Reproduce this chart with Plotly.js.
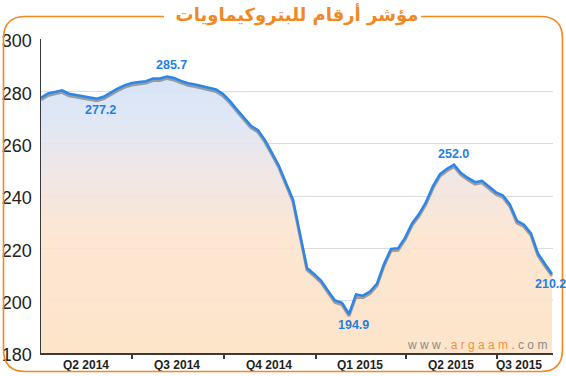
<!DOCTYPE html>
<html>
<head>
<meta charset="utf-8">
<script src="https://cdn.plot.ly/plotly-3.0.1.min.js"></script>
<style>
  html, body { margin: 0; padding: 0; background: #ffffff; }
  #chart { width: 566px; height: 376px; }
</style>
</head>
<body>
<div id="chart"></div>
<script>
// ---- data (weekly index values) ----
const dates = [
  "2014-04-01","2014-04-08","2014-04-15","2014-04-22","2014-04-29","2014-05-06","2014-05-13","2014-05-20",
  "2014-05-27","2014-06-03","2014-06-10","2014-06-17","2014-06-24","2014-07-01","2014-07-08","2014-07-15",
  "2014-07-22","2014-07-29","2014-08-05","2014-08-12","2014-08-19","2014-08-26","2014-09-02","2014-09-09",
  "2014-09-16","2014-09-23","2014-09-30","2014-10-07","2014-10-14","2014-10-21","2014-10-28","2014-11-04",
  "2014-11-11","2014-11-18","2014-11-25","2014-12-02","2014-12-09","2014-12-16","2014-12-23","2014-12-30",
  "2015-01-06","2015-01-13","2015-01-20","2015-01-27","2015-02-03","2015-02-10","2015-02-17","2015-02-24",
  "2015-03-03","2015-03-10","2015-03-17","2015-03-24","2015-03-31","2015-04-07","2015-04-14","2015-04-21",
  "2015-04-28","2015-05-05","2015-05-12","2015-05-19","2015-05-26","2015-06-02","2015-06-09","2015-06-16",
  "2015-06-23","2015-06-30","2015-07-07","2015-07-14","2015-07-21","2015-07-28","2015-08-04","2015-08-11",
  "2015-08-18","2015-08-25"
];
const indexValues = [
  277.6, 279.2, 279.8, 280.4, 279.1, 278.6, 278.0, 277.5,
  277.2, 278.0, 279.7, 281.1, 282.4, 283.2, 283.6, 283.9,
  284.9, 284.9, 285.7, 285.1, 284.0, 283.1, 282.6, 282.0,
  281.5, 280.7, 279.0, 276.3, 273.0, 269.8, 266.8, 265.2,
  261.3, 256.5, 251.5, 245.0, 238.6, 225.5, 212.5, 210.2,
  207.7, 203.8, 200.1, 199.2, 194.9, 202.4, 201.9, 203.5,
  206.5, 214.0, 219.8, 220.0, 224.0, 229.5, 233.1, 237.7,
  243.8, 248.4, 250.4, 252.0, 248.8, 246.9, 245.3, 245.8,
  243.7, 241.4, 240.2, 236.7, 230.5, 229.0, 225.7, 218.0,
  214.0, 210.2
];
const quarterStarts = ["2014-07-01","2014-10-01","2015-01-01","2015-04-01","2015-07-01"];
const quarterMids   = ["2014-05-16","2014-08-15","2014-11-15","2015-02-14","2015-05-16","2015-07-23"];
const quarterLabels = ["Q2 2014","Q3 2014","Q4 2014","Q1 2015","Q2 2015","Q3 2015"];
const labelDates  = ["2014-05-27","2014-08-05","2015-02-03","2015-05-19","2015-08-25"];
const labelValues = [277.2, 285.7, 194.9, 252.0, 210.2];
const labelTexts  = ["277.2","285.7","194.9","252.0","210.2"];
const labelShifts = [-11, 11, -11, 11, -10];
const labelXShifts = [3, 4, 4, -1, -2];
const titleText = "مؤشر أرقام للبتروكيماويات";
const yRange = [180, 300];
const xRange = ["2014-04-01", "2015-08-26"];

// ---- geometry helpers (pixel -> paper) ----
const W = 566, H = 376, ML = 41, MR = 13, MT = 39, MB = 23;
const PW = W - ML - MR, PH = H - MT - MB;
const px = p => ((p - ML) / PW).toFixed(5);
const py = p => ((H - MB - p) / PH).toFixed(5);
function borderPath() {
  const top = 16.5, left = 3.5, right = 562.5, bottom = 371.5, r = 22;
  const gapL = 164, gapR = 421;
  return "M" + px(gapL) + "," + py(top) +
    " L" + px(left + r) + "," + py(top) +
    " Q" + px(left) + "," + py(top) + " " + px(left) + "," + py(top + r) +
    " L" + px(left) + "," + py(bottom - r) +
    " Q" + px(left) + "," + py(bottom) + " " + px(left + r) + "," + py(bottom) +
    " L" + px(right - r) + "," + py(bottom) +
    " Q" + px(right) + "," + py(bottom) + " " + px(right) + "," + py(bottom - r) +
    " L" + px(right) + "," + py(top + r) +
    " Q" + px(right) + "," + py(top) + " " + px(right - r) + "," + py(top) +
    " L" + px(gapR) + "," + py(top);
}

const shadowShift = 2 * (yRange[1] - yRange[0]) / PH; // 2px lower

const traces = [
  { // gradient fill
    x: dates, y: indexValues, type: "scatter", mode: "lines",
    line: { width: 0, color: "rgba(0,0,0,0)" },
    fill: "tozeroy",
    fillgradient: {
      type: "vertical", start: 180, stop: 292,
      colorscale: [[0, "rgba(253,226,196,0.9)"], [0.4, "rgba(252,228,206,0.9)"],
                   [0.62, "rgba(238,228,228,0.9)"], [0.8, "rgba(220,229,244,0.9)"],
                   [1, "rgba(208,225,248,0.92)"]]
    },
    hoverinfo: "skip", showlegend: false, yaxis: "y"
  },
  { // shadow
    x: dates, y: indexValues, type: "scatter", mode: "lines",
    line: { width: 3, color: "rgba(95,95,95,0.55)" },
    hoverinfo: "skip", showlegend: false, yaxis: "y2"
  },
  { // main line
    x: dates, y: indexValues, type: "scatter", mode: "lines",
    line: { width: 2.5, color: "#2a86ea" },
    showlegend: false, yaxis: "y3"
  }
];

const narrow = "Liberation Sans Narrow, Arial Narrow, Liberation Sans, sans-serif";
const annotations = labelDates.map((d, i) => ({
  x: d, y: labelValues[i], xref: "x", yref: "y3",
  text: labelTexts[i], showarrow: false,
  yshift: labelShifts[i], xshift: labelXShifts[i],
  font: { family: narrow, size: 12.5, color: "#1f80e6", weight: "bold" }
}));
annotations.push({
  xref: "paper", yref: "paper", x: px(549), y: py(345), xanchor: "right", yanchor: "middle",
  showarrow: false,
  text: "w w w . <span style='color:#f39048'>a r g a a m</span> . c o m",
  font: { family: "Liberation Sans, Arial, sans-serif", size: 12, color: "#8a8a8a" }
});

const layout = {
  width: W, height: H,
  margin: { l: ML, r: MR, t: MT, b: MB, pad: 0 },
  paper_bgcolor: "#ffffff", plot_bgcolor: "#ffffff",
  showlegend: false,
  title: {
    text: titleText, x: 0.5, xanchor: "center", xref: "paper",
    y: 1 - 15 / H, yref: "container", yanchor: "middle",
    font: { family: "DejaVu Sans, sans-serif", size: 18, color: "#f0891f", weight: "bold" }
  },
  xaxis: {
    type: "date", range: xRange, fixedrange: true,
    tickmode: "array", tickvals: quarterMids, ticktext: quarterLabels,
    ticks: "", showgrid: false, zeroline: false,
    showline: true, linecolor: "#3a3a3a", linewidth: 1.5,
    tickfont: { family: narrow, size: 12, color: "#222", weight: "bold" },
    minor: { tickmode: "array", tickvals: quarterStarts, ticks: "outside", ticklen: 4, tickcolor: "#3a3a3a", tickwidth: 1.2, showgrid: false }
  },
  yaxis: {
    range: yRange, fixedrange: true, dtick: 20, tick0: 180,
    showgrid: true, gridcolor: "#dcdcdc", gridwidth: 1, zeroline: false,
    showline: true, linecolor: "#3a3a3a", linewidth: 1.5, ticks: "",
    ticklabelstandoff: 4, ticklabelshift: 2,
    tickfont: { family: narrow, size: 18, color: "#222" }
  },
  yaxis2: { overlaying: "y", visible: false, fixedrange: true,
            range: [yRange[0] + shadowShift, yRange[1] + shadowShift] },
  yaxis3: { overlaying: "y", visible: false, fixedrange: true, range: yRange },
  annotations: annotations,
  shapes: [{
    type: "path", xref: "paper", yref: "paper", path: borderPath(),
    line: { color: "#f0891f", width: 1.6 }, layer: "above"
  }]
};

Plotly.newPlot("chart", traces, layout, { displayModeBar: false, staticPlot: true });
</script>
</body>
</html>
